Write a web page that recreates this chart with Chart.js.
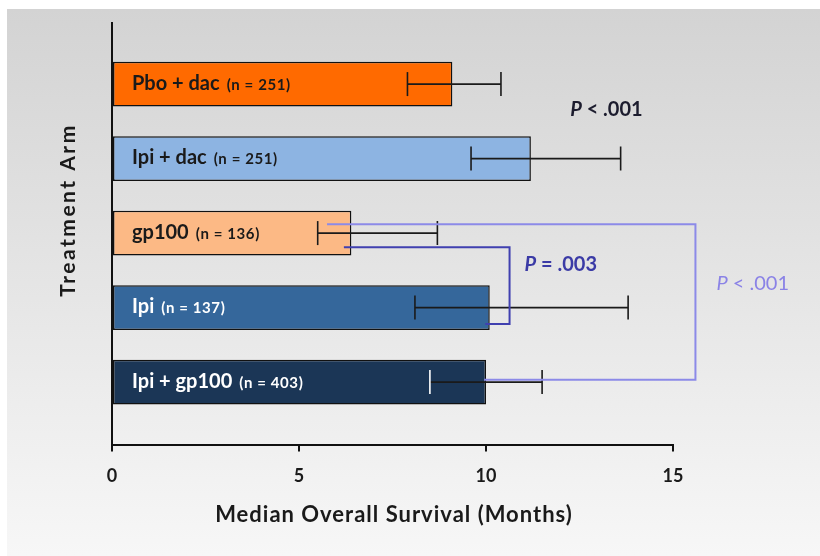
<!DOCTYPE html>
<html>
<head>
<meta charset="utf-8">
<script src="https://cdn.jsdelivr.net/npm/chart.js@4.4.1/dist/chart.umd.min.js"></script>
<style>
  html, body { margin: 0; padding: 0; background: #fff; }
  canvas { display: block; }
</style>
</head>
<body>
<canvas id="os-chart" width="820" height="556"></canvas>
<script>
// treatment arms, top to bottom
const arms = ["Pbo + dac", "Ipi + dac", "gp100", "Ipi", "Ipi + gp100"];
const sampleSizes = [251, 251, 136, 137, 403];
// median overall survival, months, with CI
const medianOS = [9.1, 11.2, 6.4, 10.1, 10.0];
const ciLow = [7.9, 9.6, 5.5, 8.1, 8.5];
const ciHigh = [10.4, 13.6, 8.7, 13.8, 11.5];
const xTicks = [0, 5, 10, 15];

// p values of the comparisons
const pLabels = ["P < .001", "P = .003", "P < .001"];

const barColors = ["#ff6a00", "#8db4e2", "#fcb985", "#35679b", "#1b3656"];
const labelColors = ["#1a1a1a", "#1a1a1a", "#1a1a1a", "#ffffff", "#ffffff"];
const FONT = "Lato, 'Open Sans', sans-serif";

const background = {
  id: "background",
  beforeDraw(chart) {
    const ctx = chart.ctx;
    ctx.save();
    ctx.fillStyle = "#ffffff";
    ctx.fillRect(0, 0, chart.width, chart.height);
    const g = ctx.createLinearGradient(0, 9, 0, chart.height);
    g.addColorStop(0, "#d3d3d3");
    g.addColorStop(1, "#f7f7f7");
    ctx.fillStyle = g;
    ctx.fillRect(7, 9, chart.width - 7, chart.height - 9);
    ctx.restore();
  }
};

const extras = {
  id: "extras",
  afterDatasetsDraw(chart) {
    const ctx = chart.ctx;
    const xs = chart.scales.x, ys = chart.scales.y;
    ctx.save();

    // labels inside the bars
    arms.forEach((name, i) => {
      const x = xs.getPixelForValue(0) + 20;
      const y = ys.getPixelForValue(i) - 1;
      ctx.fillStyle = labelColors[i];
      ctx.textBaseline = "middle";
      ctx.letterSpacing = "0px";
      ctx.font = "bold 20px " + FONT;
      ctx.fillText(name, x, y);
      const w = ctx.measureText(name).width;
      ctx.letterSpacing = "0.6px";
      ctx.font = "bold 15px " + FONT;
      ctx.fillText("(n = " + sampleSizes[i] + ")", x + w + 7, y + 2);
    });
    ctx.letterSpacing = "0px";

    // error bars
    ctx.lineWidth = 1.6;
    arms.forEach((name, i) => {
      const y = ys.getPixelForValue(i);
      const x1 = xs.getPixelForValue(ciLow[i]);
      const x2 = xs.getPixelForValue(ciHigh[i]);
      ctx.strokeStyle = "#1a1a1a";
      ctx.beginPath();
      ctx.moveTo(x1, y); ctx.lineTo(x2, y);
      ctx.moveTo(x2, y - 12); ctx.lineTo(x2, y + 12);
      ctx.stroke();
      ctx.strokeStyle = i === 4 ? "#ffffff" : "#1a1a1a";
      ctx.beginPath();
      ctx.moveTo(x1, y - 12); ctx.lineTo(x1, y + 12);
      ctx.stroke();
    });

    // comparison brackets
    ctx.lineWidth = 2;
    const bracket = (color, from, fromOff, to, toOff, xStart, xRight, xEnd) => {
      ctx.strokeStyle = color;
      ctx.beginPath();
      ctx.moveTo(xs.getPixelForValue(xStart), ys.getPixelForValue(from + fromOff));
      ctx.lineTo(xs.getPixelForValue(xRight), ys.getPixelForValue(from + fromOff));
      ctx.lineTo(xs.getPixelForValue(xRight), ys.getPixelForValue(to + toOff));
      ctx.lineTo(xs.getPixelForValue(xEnd), ys.getPixelForValue(to + toOff));
      ctx.stroke();
    };
    bracket("#8c8ae8", 2, -0.12, 4, -0.03, 5.75, 15.6, 9.95);
    bracket("#4040b0", 2, 0.19, 3, 0.22, 6.2, 10.63, 9.98);

    // p values
    const pText = (txt, color, weight, xv, yv) => {
      const x = xs.getPixelForValue(xv), y = ys.getPixelForValue(yv);
      ctx.fillStyle = color;
      ctx.textBaseline = "middle";
      ctx.font = "italic " + weight + " 20px " + FONT;
      ctx.fillText(txt.slice(0, 1), x, y);
      const w = ctx.measureText(txt.slice(0, 1)).width;
      ctx.font = weight + " 20px " + FONT;
      ctx.fillText(txt.slice(1), x + w, y);
    };
    pText(pLabels[0], "#1c1c2e", "bold", 12.25, 0.34);
    pText(pLabels[1], "#3b3ba6", "bold", 11.03, 2.42);
    pText(pLabels[2], "#8a82e6", "normal", 16.16, 2.68);

    // axis titles
    ctx.fillStyle = "#1a1a1a";
    ctx.textAlign = "center";
    ctx.textBaseline = "middle";
    ctx.letterSpacing = "1px";
    ctx.font = "bold 22px " + FONT;
    ctx.fillText("Median Overall Survival (Months)", 394, 515);
    ctx.translate(68, 210);
    ctx.rotate(-Math.PI / 2);
    ctx.letterSpacing = "2.5px";
    ctx.font = "bold 21px " + FONT;
    ctx.fillText("Treatment Arm", 0, 0);
    ctx.restore();
  }
};

new Chart(document.getElementById("os-chart"), {
  type: "bar",
  data: {
    datasets: [{
      data: arms.map((a, i) => ({ x: medianOS[i], y: i })),
      backgroundColor: barColors,
      borderColor: "#111111",
      borderWidth: 1.5,
      borderSkipped: false,
      barPercentage: 0.6,
      categoryPercentage: 1
    }]
  },
  options: {
    responsive: false,
    animation: false,
    indexAxis: "y",
    layout: { padding: { left: 112, top: 23, right: 147, bottom: 55 } },
    plugins: { legend: { display: false }, tooltip: { enabled: false } },
    scales: {
      x: {
        type: "linear",
        min: 0,
        max: 15,
        afterBuildTicks: s => { s.ticks = xTicks.map(v => ({ value: v })); },
        ticks: { color: "#1a1a1a", font: { family: FONT, size: 18, weight: "bold" }, padding: 14 },
        grid: { drawOnChartArea: false, tickLength: 6, color: "#111111", lineWidth: 2 },
        border: { color: "#111111", width: 2 }
      },
      y: {
        type: "linear",
        offset: false,
        min: -0.82,
        max: 4.85,
        reverse: true,
        afterBuildTicks: s => { s.ticks = arms.map((a, i) => ({ value: i })); },
        ticks: { display: false },
        grid: { drawOnChartArea: false, drawTicks: false, offset: false },
        border: { color: "#111111", width: 2 }
      }
    }
  },
  plugins: [background, extras]
});
</script>
</body>
</html>
